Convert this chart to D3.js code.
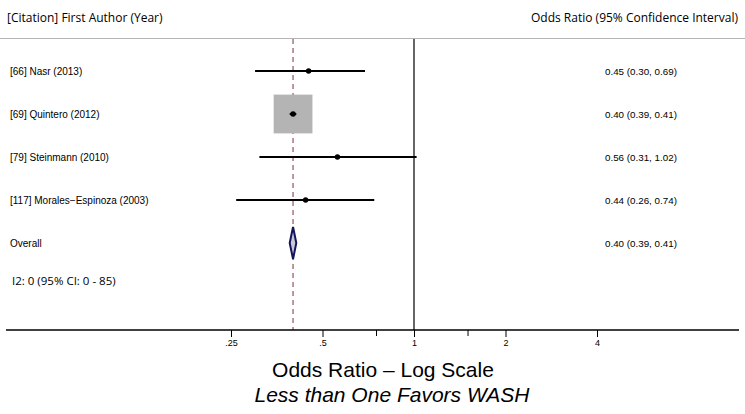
<!DOCTYPE html>
<html>
<head>
<meta charset="utf-8">
<script src="https://cdn.jsdelivr.net/npm/d3@7"></script>
<style>
  body { margin: 0; background: white; }
  svg { display: block; }
</style>
</head>
<body>
<div id="chart"></div>
<script>
// studies
var studies = ["[66] Nasr (2013)", "[69] Quintero (2012)", "[79] Steinmann (2010)", "[117] Morales\u2212Espinoza (2003)"];
var oddsRatio = [0.45, 0.40, 0.56, 0.44];
var lowerCI = [0.30, 0.39, 0.31, 0.26];
var upperCI = [0.69, 0.41, 1.02, 0.74];
var ciText = ["0.45 (0.30, 0.69)", "0.40 (0.39, 0.41)", "0.56 (0.31, 1.02)", "0.44 (0.26, 0.74)"];
var weights = [0.3, 98.9, 0.2, 0.6];

// pooled estimate
var overallLabel = "Overall";
var overall = { or: 0.40, lo: 0.39, hi: 0.41, text: "0.40 (0.39, 0.41)" };
var heterogeneity = "I2: 0 (95% CI: 0 - 85)";

var majorTicks = [0.25, 0.5, 1, 2, 4];
var majorTickLabels = [".25", ".5", "1", "2", "4"];
var minorTicks = [0.75, 1.5];

var width = 745, height = 414;

var svg = d3.select("#chart").append("svg")
            .attr("width", width)
            .attr("height", height);

var x = d3.scaleLog().base(2)
          .domain([0.25, 4])
          .range([231, 597]);

var y = d3.scalePoint()
          .domain(studies.concat([overallLabel]))
          .range([71, 243]);

var boxSize = d3.scaleSqrt()
                .domain([0, 100])
                .range([0, 39]);

var headerFont = "'Open Sans', 'Noto Sans', sans-serif";
var bodyFont = "'Liberation Sans', Arial, sans-serif";

// headers
svg.append("text")
   .attr("x", 7).attr("y", 22)
   .style("font-family", headerFont).style("font-size", "12px")
   .text("[Citation] First Author (Year)");

svg.append("text")
   .attr("x", 738).attr("y", 22)
   .attr("text-anchor", "end")
   .style("font-family", headerFont).style("font-size", "12px")
   .text("Odds Ratio (95% Confidence Interval)");

svg.append("line")
   .attr("x1", 0).attr("x2", width)
   .attr("y1", 38.5).attr("y2", 38.5)
   .style("stroke", "#b4b4b4").style("stroke-width", 1);

// null line and pooled line
svg.append("line")
   .attr("x1", x(1)).attr("x2", x(1))
   .attr("y1", 39).attr("y2", 330)
   .style("stroke", "black").style("stroke-width", 1.2);

svg.append("line")
   .attr("x1", x(overall.or)).attr("x2", x(overall.or))
   .attr("y1", 39).attr("y2", 330)
   .style("stroke", "#a5787d").style("stroke-width", 1.5)
   .style("stroke-dasharray", "5,4");

var rows = studies.map(function (s, i) {
  return { name: s, or: oddsRatio[i], lo: lowerCI[i], hi: upperCI[i], text: ciText[i], w: weights[i] };
});

// weight boxes
svg.selectAll("rect.box")
   .data(rows)
   .enter()
   .append("rect")
   .attr("class", "box")
   .attr("x", function (d) { return x(d.or) - boxSize(d.w) / 2; })
   .attr("y", function (d) { return y(d.name) - boxSize(d.w) / 2; })
   .attr("width", function (d) { return boxSize(d.w); })
   .attr("height", function (d) { return boxSize(d.w); })
   .style("fill", "#b4b4b4");

// confidence intervals
svg.selectAll("line.ci")
   .data(rows)
   .enter()
   .append("line")
   .attr("class", "ci")
   .attr("x1", function (d) { return x(d.lo); })
   .attr("x2", function (d) { return x(d.hi); })
   .attr("y1", function (d) { return y(d.name); })
   .attr("y2", function (d) { return y(d.name); })
   .style("stroke", "black").style("stroke-width", 2);

svg.selectAll("circle.pt")
   .data(rows)
   .enter()
   .append("circle")
   .attr("class", "pt")
   .attr("cx", function (d) { return x(d.or); })
   .attr("cy", function (d) { return y(d.name); })
   .attr("r", 2.7)
   .style("fill", "black");

// row labels
svg.selectAll("text.study")
   .data(rows)
   .enter()
   .append("text")
   .attr("class", "study")
   .attr("x", 10)
   .attr("y", function (d) { return y(d.name) + 3.5; })
   .style("font-family", bodyFont).style("font-size", "10px")
   .text(function (d) { return d.name; });

svg.selectAll("text.citext")
   .data(rows)
   .enter()
   .append("text")
   .attr("class", "citext")
   .attr("x", 605)
   .attr("y", function (d) { return y(d.name) + 3.5; })
   .style("font-family", bodyFont).style("font-size", "9.8px")
   .text(function (d) { return d.text; });

// overall
var oy = y(overallLabel);
svg.append("text")
   .attr("x", 10).attr("y", oy + 3.5)
   .style("font-family", bodyFont).style("font-size", "10px")
   .text(overallLabel);

svg.append("text")
   .attr("x", 605).attr("y", oy + 3.5)
   .style("font-family", bodyFont).style("font-size", "9.8px")
   .text(overall.text);

svg.append("path")
   .attr("d", "M" + x(overall.lo) + "," + oy +
              "L" + x(overall.or) + "," + (oy - 16) +
              "L" + x(overall.hi) + "," + oy +
              "L" + x(overall.or) + "," + (oy + 16) + "Z")
   .style("fill", "#c8c8d8")
   .style("stroke", "#14145a").style("stroke-width", 2);

svg.append("text")
   .attr("x", 12).attr("y", 285)
   .style("font-family", headerFont).style("font-size", "11.5px")
   .text(heterogeneity);

// x axis
svg.append("line")
   .attr("x1", 6).attr("x2", 739)
   .attr("y1", 330).attr("y2", 330)
   .style("stroke", "black").style("stroke-width", 1.5);

var axis = d3.axisBottom(x)
             .tickValues(majorTicks)
             .tickFormat(function (d, i) { return majorTickLabels[i]; })
             .tickSize(7)
             .tickPadding(3);

var gAxis = svg.append("g")
   .attr("transform", "translate(0,330)")
   .call(axis);
gAxis.select(".domain").remove();
gAxis.selectAll("text")
   .style("font-family", bodyFont).style("font-size", "9px").style("fill", "black");

var minorAxis = d3.axisBottom(x)
                  .tickValues(minorTicks)
                  .tickFormat("")
                  .tickSize(6);
var gMinor = svg.append("g")
   .attr("transform", "translate(0,330)")
   .call(minorAxis);
gMinor.select(".domain").remove();

svg.append("text")
   .attr("x", 383).attr("y", 377)
   .attr("text-anchor", "middle")
   .style("font-family", bodyFont).style("font-size", "21px")
   .text("Odds Ratio \u2013 Log Scale");

svg.append("text")
   .attr("x", 392).attr("y", 402)
   .attr("text-anchor", "middle")
   .style("font-family", bodyFont).style("font-size", "21px")
   .style("font-style", "italic")
   .text("Less than One Favors WASH");
</script>
</body>
</html>
